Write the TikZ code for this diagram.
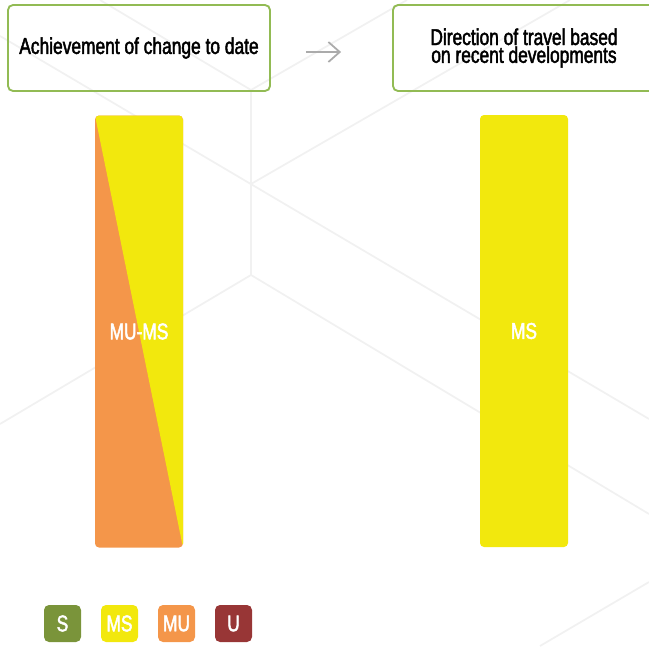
\documentclass[tikz,border=0pt]{standalone}
\usepackage{fontspec}
\setmainfont{Liberation Sans}[FakeStretch=0.86]
\newfontfamily\dick{Liberation Sans}[FakeStretch=0.76,FakeBold=2]
\usetikzlibrary{arrows,arrows.meta,positioning}

\definecolor{msgelb}{RGB}{242,232,13}
\definecolor{muorange}{RGB}{244,150,74}
\definecolor{sgruen}{RGB}{122,148,58}
\definecolor{urot}{RGB}{152,54,54}
\definecolor{rahmen}{RGB}{146,187,84}
\definecolor{hexgrau}{RGB}{241,241,241}

\begin{document}
\begin{tikzpicture}[x=0.03cm,y=-0.03cm,thick]

\def\px{0.03cm}
\tikzset{
	hexlinie/.style={color=hexgrau,line width=1.5pt},
	titel/.style={draw=rahmen,line width=1.6pt,rounded corners=5*\px,
		minimum width=262*\px,minimum height=86*\px,inner sep=0pt,align=center,
		font=\dick\fontsize{19.5}{15.2}\selectfont},
	balken/.style={rounded corners=4*\px,minimum width=88*\px,minimum height=432*\px,
		inner sep=0pt,text=white,font=\dick\fontsize{19.5}{19.5}\selectfont},
	legende/.style={rounded corners=5*\px,minimum size=37*\px,inner sep=0pt,
		text=white,font=\dick\fontsize{19.5}{19.5}\selectfont},
	pfeil/.style={color=black!33,line width=1.5pt,-{Straight Barb[length=3.4mm,width=6mm]}}
}

\useasboundingbox (0,0) rectangle (649,646);
\clip (0,0) rectangle (649,646);

\draw[hexlinie] (100,0)--(251,90)--(407,0);
\draw[hexlinie] (251,90)--(251,275);
\draw[hexlinie] (0,36)--(649,419);
\draw[hexlinie] (251,184)--(570,0);
\draw[hexlinie] (0,424)--(251,275)--(649,514);
\draw[hexlinie] (540,646)--(649,582);

\node[titel] (bisher) at (139,48) {Achievement of change to date};
\node[titel] (richtung) at (524,48) {Direction of travel based\\on recent developments};
\draw[pfeil] ([xshift=35*\px,yshift=-4*\px]bisher.east)--([xshift=-51*\px,yshift=-4*\px]richtung.west);

\node[balken,fill=muorange,path picture={
	\fill[msgelb] (path picture bounding box.north west)--(path picture bounding box.north east)--
		(path picture bounding box.south east)--cycle;
}] (bisherbalken) at (139,331.5) {MU-MS};
\node[balken,fill=msgelb] (richtungbalken) at (524,331) {MS};

\foreach \name/\farbe [count=\i] in {S/sgruen,MS/msgelb,MU/muorange,U/urot}{
	\node[legende,fill=\farbe] (legende\i) at ({62.5+57*(\i-1)},623.5) {\name};
}

\end{tikzpicture}
\end{document}
